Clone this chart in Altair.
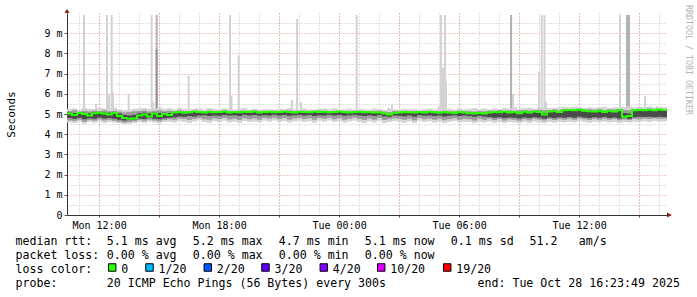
import altair as alt
import pandas as pd
import numpy as np

FONT = "DejaVu Sans Mono"
PLOT_LEFT, PLOT_TOP = 67, 13
W, H = 600, 202

# time axis: hours since Mon 00:00, 30 h window ending Tue 16:23:49
T_START = 10 + 23 / 60 + 49 / 3600
T_END = T_START + 30.0

# ---------------- data (15-minute buckets, 121 points) ----------------
median = [
    5.02, 4.95, 5.05, 5.00, 4.92, 5.04, 5.06, 5.03, 4.98, 5.05,
    4.90, 4.80, 4.76, 4.78, 4.92, 4.98, 4.88, 5.02, 4.90, 5.00,
    4.95, 5.08, 5.10, 5.06, 5.09, 5.12, 5.10, 5.08, 5.11, 5.09,
    5.10, 5.12, 5.08, 5.10, 5.09, 5.11, 5.10, 5.12, 5.08, 5.10,
    5.11, 5.09, 5.10, 5.12, 5.10, 5.08, 5.11, 5.10, 5.09, 5.12,
    5.10, 5.11, 5.09, 5.10, 5.12, 5.10, 5.08, 5.10, 5.11, 5.09,
    5.10, 5.08, 5.07, 5.02, 4.98, 5.05, 5.08, 5.10, 5.09, 5.07,
    5.10, 5.08, 5.11, 5.09, 5.06, 5.10, 5.08, 5.05, 5.10, 5.08,
    5.04, 5.02, 5.05, 5.03, 5.08, 5.10, 5.09, 5.12, 5.07, 5.10,
    5.04, 5.11, 5.08, 5.12, 5.10, 4.98, 5.12, 5.14, 5.10, 5.18,
    5.20, 5.19, 5.21, 5.16, 5.14, 5.12, 5.16, 5.10, 5.15, 5.12,
    5.18, 4.86, 4.90, 5.18, 5.20, 5.19, 5.21, 5.18, 5.22, 5.20,
    5.20,
]
outer_hi = [
    5.25, 5.28, 5.22, 5.30, 5.26, 5.24, 5.30, 5.27, 5.25, 5.32,
    5.24, 5.20, 5.22, 5.26, 5.28, 5.30, 5.25, 5.27, 5.33, 5.26,
    5.28, 5.24, 5.30, 5.26, 5.22, 5.25, 5.27, 5.24, 5.30, 5.26,
    5.23, 5.28, 5.25, 5.22, 5.27, 5.30, 5.24, 5.26, 5.22, 5.25,
    5.24, 5.22, 5.26, 5.25, 5.30, 5.23, 5.21, 5.27, 5.24, 5.22,
    5.26, 5.25, 5.23, 5.28, 5.22, 5.24, 5.26, 5.21, 5.25, 5.23,
    5.22, 5.27, 5.25, 5.20, 5.30, 5.24, 5.22, 5.26, 5.23, 5.25,
    5.21, 5.24, 5.27, 5.22, 5.25, 5.23, 5.26, 5.22, 5.28, 5.24,
    5.26, 5.30, 5.25, 5.27, 5.22, 5.28, 5.25, 5.30, 5.27, 5.33,
    5.26, 5.29, 5.31, 5.27, 5.30, 5.34, 5.28, 5.30, 5.32, 5.35,
    5.33, 5.36, 5.32, 5.30, 5.34, 5.31, 5.33, 5.36, 5.30, 5.34,
    5.32, 5.35, 5.38, 5.33, 5.36, 5.34, 5.37, 5.33, 5.35, 5.34,
    5.34,
]
outer_lo = [
    4.58, 4.55, 4.62, 4.52, 4.60, 4.57, 4.63, 4.55, 4.60, 4.58,
    4.54, 4.50, 4.52, 4.56, 4.60, 4.55, 4.62, 4.58, 4.54, 4.60,
    4.62, 4.58, 4.65, 4.60, 4.55, 4.63, 4.68, 4.60, 4.57, 4.64,
    4.60, 4.66, 4.58, 4.62, 4.55, 4.65, 4.60, 4.63, 4.58, 4.66,
    4.62, 4.68, 4.60, 4.65, 4.58, 4.63, 4.67, 4.60, 4.64, 4.57,
    4.66, 4.62, 4.68, 4.60, 4.65, 4.58, 4.63, 4.67, 4.61, 4.55,
    4.64, 4.58, 4.66, 4.56, 4.60, 4.65, 4.62, 4.57, 4.63, 4.55,
    4.66, 4.60, 4.64, 4.58, 4.62, 4.55, 4.60, 4.65, 4.58, 4.62,
    4.60, 4.55, 4.62, 4.58, 4.63, 4.57, 4.61, 4.55, 4.60, 4.58,
    4.54, 4.60, 4.56, 4.62, 4.58, 4.55, 4.61, 4.57, 4.60, 4.58,
    4.62, 4.58, 4.64, 4.60, 4.57, 4.62, 4.59, 4.63, 4.58, 4.61,
    4.56, 4.60, 4.58, 4.62, 4.60, 4.64, 4.61, 4.65, 4.62, 4.63,
    4.63,
]
mid_hi = [
    5.15, 5.18, 5.12, 5.16, 5.14, 5.17, 5.15, 5.18, 5.13, 5.16,
    5.12, 5.08, 5.10, 5.14, 5.15, 5.17, 5.12, 5.16, 5.18, 5.14,
    5.16, 5.15, 5.18, 5.14, 5.13, 5.16, 5.15, 5.13, 5.17, 5.14,
    5.15, 5.18, 5.14, 5.13, 5.16, 5.15, 5.13, 5.17, 5.14, 5.15,
    5.14, 5.16, 5.13, 5.15, 5.17, 5.14, 5.13, 5.16, 5.15, 5.14,
    5.17, 5.15, 5.13, 5.16, 5.14, 5.15, 5.13, 5.16, 5.14, 5.15,
    5.14, 5.13, 5.16, 5.12, 5.10, 5.15, 5.14, 5.16, 5.13, 5.15,
    5.14, 5.16, 5.13, 5.15, 5.12, 5.16, 5.14, 5.13, 5.16, 5.15,
    5.14, 5.12, 5.15, 5.13, 5.17, 5.16, 5.18, 5.15, 5.19, 5.16,
    5.18, 5.20, 5.17, 5.19, 5.21, 5.18, 5.20, 5.22, 5.19, 5.24,
    5.25, 5.23, 5.26, 5.22, 5.24, 5.21, 5.25, 5.20, 5.23, 5.22,
    5.25, 5.20, 5.18, 5.24, 5.26, 5.25, 5.27, 5.24, 5.26, 5.25,
    5.25,
]
mid_lo = [
    4.68, 4.65, 4.72, 4.62, 4.70, 4.66, 4.73, 4.68, 4.70, 4.66,
    4.62, 4.58, 4.60, 4.64, 4.70, 4.66, 4.72, 4.68, 4.64, 4.70,
    4.74, 4.72, 4.78, 4.75, 4.70, 4.76, 4.80, 4.74, 4.72, 4.78,
    4.75, 4.80, 4.73, 4.77, 4.70, 4.79, 4.74, 4.78, 4.72, 4.80,
    4.76, 4.82, 4.74, 4.80, 4.72, 4.78, 4.81, 4.75, 4.79, 4.72,
    4.80, 4.76, 4.82, 4.74, 4.79, 4.72, 4.77, 4.81, 4.75, 4.70,
    4.78, 4.72, 4.80, 4.70, 4.74, 4.79, 4.76, 4.71, 4.77, 4.69,
    4.80, 4.74, 4.78, 4.72, 4.76, 4.69, 4.74, 4.79, 4.72, 4.76,
    4.74, 4.68, 4.76, 4.72, 4.77, 4.70, 4.75, 4.68, 4.74, 4.71,
    4.67, 4.74, 4.69, 4.76, 4.72, 4.68, 4.75, 4.70, 4.74, 4.72,
    4.76, 4.71, 4.78, 4.74, 4.70, 4.76, 4.72, 4.77, 4.71, 4.75,
    4.69, 4.73, 4.70, 4.76, 4.74, 4.78, 4.75, 4.79, 4.76, 4.77,
    4.77,
]
core_lo = [
    4.80, 4.76, 4.82, 4.74, 4.79, 4.77, 4.83, 4.78, 4.80, 4.76,
    4.72, 4.68, 4.70, 4.72, 4.78, 4.75, 4.80, 4.77, 4.74, 4.79,
    4.82, 4.84, 4.88, 4.86, 4.90, 4.88, 4.92, 4.94, 4.90, 4.93,
    4.91, 4.95, 4.92, 4.94, 4.90, 4.96, 4.93, 4.95, 4.91, 4.94,
    4.93, 4.96, 4.92, 4.95, 4.91, 4.94, 4.96, 4.92, 4.95, 4.90,
    4.94, 4.93, 4.96, 4.92, 4.95, 4.91, 4.94, 4.96, 4.93, 4.90,
    4.94, 4.90, 4.95, 4.88, 4.86, 4.93, 4.91, 4.89, 4.92, 4.87,
    4.95, 4.91, 4.93, 4.90, 4.92, 4.88, 4.91, 4.94, 4.90, 4.92,
    4.90, 4.86, 4.91, 4.88, 4.85, 4.82, 4.84, 4.80, 4.83, 4.81,
    4.78, 4.83, 4.80, 4.84, 4.81, 4.77, 4.83, 4.80, 4.84, 4.82,
    4.85, 4.81, 4.86, 4.83, 4.80, 4.84, 4.81, 4.85, 4.80, 4.83,
    4.78, 4.80, 4.76, 4.84, 4.86, 4.85, 4.87, 4.84, 4.86, 4.85,
    4.85,
]
core_hi = [
    5.08, 5.05, 5.10, 5.06, 5.04, 5.09, 5.10, 5.08, 5.06, 5.10,
    5.02, 4.95, 4.92, 4.96, 5.04, 5.06, 5.02, 5.08, 5.05, 5.06,
    5.05, 5.10, 5.12, 5.09, 5.10, 5.12, 5.11, 5.09, 5.12, 5.10,
    5.11, 5.13, 5.09, 5.11, 5.10, 5.12, 5.11, 5.13, 5.09, 5.11,
    5.12, 5.10, 5.11, 5.13, 5.11, 5.09, 5.12, 5.11, 5.10, 5.13,
    5.11, 5.12, 5.10, 5.11, 5.13, 5.11, 5.09, 5.11, 5.12, 5.10,
    5.11, 5.09, 5.08, 5.04, 5.00, 5.06, 5.09, 5.11, 5.10, 5.08,
    5.11, 5.09, 5.12, 5.10, 5.07, 5.11, 5.09, 5.06, 5.11, 5.09,
    5.06, 5.04, 5.07, 5.05, 5.10, 5.12, 5.11, 5.14, 5.09, 5.12,
    5.08, 5.13, 5.10, 5.14, 5.12, 5.05, 5.14, 5.16, 5.12, 5.19,
    5.21, 5.20, 5.22, 5.17, 5.16, 5.14, 5.18, 5.12, 5.17, 5.14,
    5.19, 5.05, 5.02, 5.19, 5.21, 5.20, 5.22, 5.19, 5.23, 5.21,
    5.21,
]

# single-sample outliers (hours since Mon 00:00, top in ms, shade class)
spike_t = [11.197, 11.797, 12.347, 12.447, 12.58, 12.647, 13.43, 14.58, 14.647,
           14.83, 14.83, 16.43, 16.80, 18.50, 18.57, 18.93, 19.25, 21.60, 21.85,
           22.05, 23.25, 24.83, 26.60, 28.95, 29.05, 29.15, 29.25, 29.30, 32.55,
           32.65, 33.95, 34.08, 34.22, 34.30, 38.00, 38.35, 38.45, 39.25, 39.85]
spike_top = [9.9, 5.5, 9.9, 6.0, 9.9, 6.1, 6.0, 9.9, 5.6,
             9.9, 8.2, 6.9, 5.3, 9.9, 5.9, 7.9, 5.3, 5.7, 9.7,
             5.6, 5.3, 9.9, 5.5, 5.4, 9.9, 7.3, 9.9, 6.6, 9.9,
             6.0, 7.1, 9.9, 9.9, 5.6, 9.9, 9.9, 9.9, 5.9, 5.4]
spike_shade = ["light", "light", "light", "light", "light", "light", "light", "light", "light",
               "mid", "dark", "light", "light", "light", "light", "light", "light", "light", "light",
               "light", "light", "light", "light", "light", "light", "light", "light", "light", "mid",
               "light", "light", "light", "light", "light", "light", "mid", "mid", "light", "light"]

x_label_hours = [12, 18, 24, 30, 36]
rtt_stats = [5.1, 5.2, 4.7, 5.1, 0.1]
rtt_names = ["avg", "max", "min", "now", "sd"]
am_per_s = 51.2
loss_stats = [0.00, 0.00, 0.00, 0.00]
loss_names = ["avg", "max", "min", "now"]
loss_labels = ["0", "1/20", "2/20", "3/20", "4/20", "10/20", "19/20"]
loss_colors = ["#26ff00", "#00b8ff", "#0059ff", "#5e00ff", "#7e00ff", "#dd00ff", "#ff0000"]
probe_text = "20 ICMP Echo Pings (56 Bytes) every 300s"
end_text = "end: Tue Oct 28 16:23:49 2025"
watermark = "RRDTOOL / TOBI OETIKER"

for arr in (median, outer_hi, outer_lo, mid_hi, mid_lo, core_lo, core_hi):
    assert len(arr) == 121, len(arr)
assert len(spike_t) == len(spike_top) == len(spike_shade)

times = [T_START + 0.25 * i for i in range(121)]
smoke_df = pd.DataFrame({
    "t": times, "median": median,
    "ohi": outer_hi, "olo": outer_lo,
    "mhi": mid_hi, "mlo": mid_lo,
    "chi": core_hi, "clo": core_lo,
})
spike_df = pd.DataFrame({"t": spike_t, "top": spike_top, "shade": spike_shade})
spike_df["t2"] = spike_df["t"] + 0.1
spike_df["bottom"] = 5.0

xs = alt.Scale(domain=[T_START, T_END], nice=False, zero=False)
ys = alt.Scale(domain=[0, 10], nice=False, zero=True)

hour_ticks = [float(h) for h in range(11, 41)]
three_h_ticks = [float(h) for h in range(12, 41, 3)]
half_ticks = [i + 0.5 for i in range(10)]
unit_ticks = [float(i) for i in range(10)]

base = alt.Chart(smoke_df)

minor_grid = base.mark_point(opacity=0).encode(
    x=alt.X("t:Q", scale=xs, axis=alt.Axis(
        orient="bottom", values=hour_ticks, grid=True, gridColor="#c4c4c4",
        gridDash=[1, 2], gridWidth=1, labels=False, ticks=False, domain=False, title=None)),
    y=alt.Y("median:Q", scale=ys, axis=alt.Axis(
        orient="left", values=half_ticks, grid=True, gridColor="#c4c4c4",
        gridDash=[1, 2], gridWidth=1, labels=False, ticks=False, domain=False, title=None)),
)

x_label_expr = (
    "indexof(" + str(x_label_hours) + ", datum.value) >= 0 ? "
    "((datum.value < 24 ? 'Mon ' : 'Tue ') + ((datum.value % 24) < 10 ? '0' : '') + "
    "(datum.value % 24) + ':00') : ''"
)

major_grid = base.mark_point(opacity=0).encode(
    x=alt.X("t:Q", scale=xs, axis=alt.Axis(
        orient="bottom", values=three_h_ticks, grid=True, gridColor="#ee9494",
        gridDash=[1, 2], gridWidth=1, labelExpr=x_label_expr, labelFont=FONT,
        labelFontSize=10, labelColor="#000000", labelPadding=3, labelFlush=False,
        labelOverlap=False, ticks=True, tickSize=2, tickColor="#555555",
        domain=True, domainColor="#333333", domainWidth=1, title=None)),
    y=alt.Y("median:Q", scale=ys, axis=alt.Axis(
        orient="left", values=unit_ticks, grid=True, gridColor="#ee9494",
        gridDash=[1, 2], gridWidth=1,
        labelExpr="datum.value == 0 ? '0' : datum.value + ' m'",
        labelFont=FONT, labelFontSize=10, labelColor="#000000", labelPadding=2,
        ticks=True, tickSize=3, tickColor="#555555",
        domain=True, domainColor="#333333", domainWidth=1,
        title="Seconds", titleFont=FONT, titleFontSize=11, titleFontWeight="normal",
        titleColor="#000000", titleAngle=-90, titleX=-56, titleY=101,
        titleAlign="center", titleBaseline="middle")),
)

spikes = alt.Chart(spike_df).mark_rect().encode(
    x=alt.X("t:Q", scale=xs, axis=None),
    x2="t2:Q",
    y=alt.Y("top:Q", scale=ys, axis=None),
    y2="bottom:Q",
    color=alt.Color("shade:N", scale=alt.Scale(domain=["light", "mid", "dark"],
                                               range=["#d2d2d2", "#b0b0b0", "#959595"]),
                    legend=None),
)

def band(hi, lo, col):
    return base.mark_area(interpolate="step-after", color=col, opacity=1).encode(
        x=alt.X("t:Q", scale=xs, axis=None),
        y=alt.Y(f"{hi}:Q", scale=ys, axis=None),
        y2=f"{lo}:Q",
    )

outer = band("ohi", "olo", "#d4d4d4")
mid = band("mhi", "mlo", "#9c9c9c")
core = band("chi", "clo", "#4a4a4a")

med_line = base.mark_line(interpolate="step-after", color="#26ff00", strokeWidth=2).encode(
    x=alt.X("t:Q", scale=xs, axis=None),
    y=alt.Y("median:Q", scale=ys, axis=None),
)

arrow_up = alt.Chart(pd.DataFrame({"a": [0]})).mark_point(
    shape="M-0.7,0L0.7,0L0,-1.15Z", size=49, filled=True, color="#8b1a1a", opacity=1
).encode(x=alt.XDatum(T_START, axis=None), y=alt.YDatum(10, axis=None))
arrow_right = alt.Chart(pd.DataFrame({"a": [0]})).mark_point(
    shape="M0,-0.7L0,0.7L1.4,0Z", size=49, filled=True, color="#8b1a1a", opacity=1
).encode(x=alt.XDatum(T_END, axis=None), y=alt.YDatum(0, axis=None))

# ---------------- footer legend ----------------
col_x = [16, 107.3, 193.3, 279.3, 365.3, 451.3, 530, 579.3]
line_base = [245, 259, 273, 287]
rows = []
rows.append(("median rtt:", col_x[0], line_base[0]))
for k, (v, n) in enumerate(zip(rtt_stats, rtt_names)):
    rows.append((f"{v:.1f} ms {n}", col_x[k + 1], line_base[0]))
rows.append((f"{am_per_s:.1f}", col_x[6], line_base[0]))
rows.append(("am/s", col_x[7], line_base[0]))
rows.append(("packet loss:", col_x[0], line_base[1]))
for k, (v, n) in enumerate(zip(loss_stats, loss_names)):
    rows.append((f"{v:.2f} % {n}", col_x[k + 1], line_base[1]))
rows.append(("loss color:", col_x[0], line_base[2]))
rows.append(("probe:", col_x[0], line_base[3]))
rows.append((probe_text, col_x[1], line_base[3]))
rows.append((end_text, 478, line_base[3]))

sq_cx = [112.2, 149.5, 207.8, 265.5, 323.8, 381.2, 447.2]
for lab, cx in zip(loss_labels, sq_cx):
    rows.append((lab, cx + 9.5, line_base[2]))

text_df = pd.DataFrame(rows, columns=["txt", "px", "py"])
text_df["px"] = text_df["px"] - PLOT_LEFT - 0.5
text_df["py"] = text_df["py"] - PLOT_TOP

footer = alt.Chart(text_df).mark_text(
    font=FONT, fontSize=11.6, align="left", baseline="alphabetic", color="#000000"
).encode(
    x=alt.X("px:Q", scale=None, axis=None),
    y=alt.Y("py:Q", scale=None, axis=None),
    text="txt:N",
)

sq_df = pd.DataFrame({"lab": loss_labels, "px": [c - PLOT_LEFT for c in sq_cx],
                      "py": [267.5 - PLOT_TOP] * len(loss_labels)})
squares = alt.Chart(sq_df).mark_square(size=56, filled=True, stroke="#000000",
                                       strokeWidth=1, opacity=1).encode(
    x=alt.X("px:Q", scale=None, axis=None),
    y=alt.Y("py:Q", scale=None, axis=None),
    color=alt.Color("lab:N", scale=alt.Scale(domain=loss_labels, range=loss_colors), legend=None),
)

wm_df = pd.DataFrame({"txt": [watermark], "px": [688 - PLOT_LEFT], "py": [5 - PLOT_TOP]})
wm = alt.Chart(wm_df).mark_text(
    font=FONT, fontSize=8.3, angle=90, align="left", baseline="middle", color="#b4b4b4"
).encode(
    x=alt.X("px:Q", scale=None, axis=None),
    y=alt.Y("py:Q", scale=None, axis=None),
    text="txt:N",
)

chart = alt.layer(
    minor_grid, major_grid, spikes, outer, mid, core, med_line,
    arrow_up, arrow_right, footer, squares, wm,
).resolve_axis(x="independent", y="independent").resolve_scale(color="independent").properties(
    width=W, height=H,
    padding={"left": PLOT_LEFT, "top": PLOT_TOP, "right": 697 - PLOT_LEFT - W, "bottom": 297 - PLOT_TOP - H},
    autosize=alt.AutoSizeParams(type="none"),
    background="white",
).configure_view(stroke=None)

chart.save("out.html", embed_options={"renderer": "svg", "actions": False})
